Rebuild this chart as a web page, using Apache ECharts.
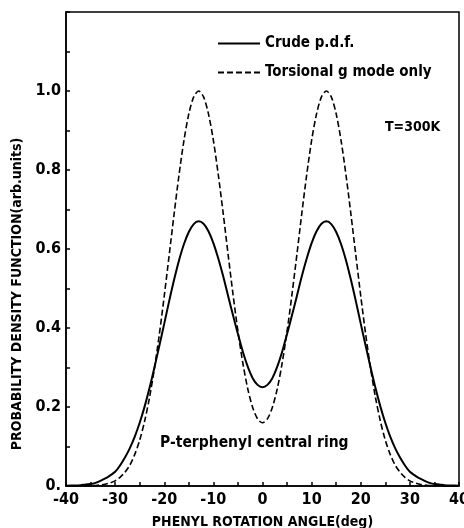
<!DOCTYPE html>
<html>
<head>
<meta charset="utf-8">
<style>
  html, body { margin: 0; padding: 0; background: #fff; }
  #chart { width: 464px; height: 528px; }
</style>
</head>
<body>
<div id="chart"></div>

<script src="https://cdn.jsdelivr.net/npm/echarts@6/dist/echarts.min.js"></script>
<script>
    // rotation angle (deg), -40 .. 40 in steps of 1
    var angles = [];
    for (var a = -40; a <= 40; a++) angles.push(a);

    // Torsional g mode only (dashed)
    var torsional = [
        0, 0, 0, 0, 0.0002, 0.0007, 0.0014, 0.0025, 0.0045, 0.008,
        0.013, 0.022, 0.035, 0.053, 0.080, 0.116, 0.164, 0.224, 0.298, 0.384,
        0.481, 0.584, 0.688, 0.787, 0.874, 0.942, 0.985, 1.000, 0.985, 0.942,
        0.875, 0.788, 0.690, 0.586, 0.485, 0.392, 0.311, 0.246, 0.199, 0.170,
        0.160,
        0.170, 0.199, 0.246, 0.311, 0.392, 0.485, 0.586, 0.690, 0.788, 0.875,
        0.942, 0.985, 1.000, 0.985, 0.942, 0.874, 0.787, 0.688, 0.584, 0.481,
        0.384, 0.298, 0.224, 0.164, 0.116, 0.080, 0.053, 0.035, 0.022, 0.013,
        0.008, 0.0045, 0.0025, 0.0014, 0.0007, 0.0002, 0, 0, 0, 0
    ];

    // Crude p.d.f. (solid)
    var crude = [
        0.0005, 0.001, 0.001, 0.002, 0.004, 0.005, 0.008, 0.013, 0.019, 0.027,
        0.036, 0.052, 0.072, 0.096, 0.125, 0.160, 0.201, 0.248, 0.300, 0.355,
        0.411, 0.468, 0.522, 0.571, 0.612, 0.643, 0.663, 0.670, 0.664, 0.645,
        0.615, 0.576, 0.531, 0.481, 0.432, 0.385, 0.340, 0.302, 0.273, 0.256,
        0.250,
        0.256, 0.273, 0.302, 0.340, 0.385, 0.432, 0.481, 0.531, 0.576, 0.615,
        0.645, 0.664, 0.670, 0.663, 0.643, 0.612, 0.571, 0.522, 0.468, 0.411,
        0.355, 0.300, 0.248, 0.201, 0.160, 0.125, 0.096, 0.072, 0.052, 0.036,
        0.027, 0.019, 0.013, 0.008, 0.005, 0.004, 0.002, 0.001, 0.001, 0.0005
    ];

    var seriesNames = ['Crude p.d.f.', 'Torsional g mode only'];

    var font = 'DejaVu Sans Condensed';

    function pairs(vals) {
        return angles.map(function (x, i) { return [x, vals[i]]; });
    }

    var myChart = echarts.init(document.getElementById('chart'));

    var option = {
        backgroundColor: '#fff',
        animation: false,
        color: ['#000', '#000'],
        textStyle: { fontFamily: font, color: '#000' },
        grid: {
            left: 66, right: 5, top: 12, bottom: 42,
            outerBoundsMode: 'none',
            containLabel: false,
            show: true, borderColor: '#000', borderWidth: 1.5
        },
        legend: {
            orient: 'vertical',
            left: 212, top: 31,
            itemWidth: 42, itemHeight: 14, itemGap: 14,
            data: seriesNames,
            itemStyle: { opacity: 0 },
            textStyle: { fontFamily: font, fontWeight: 'bold', fontSize: 15, color: '#000' }
        },
        xAxis: {
            type: 'value',
            min: -40, max: 40, interval: 10,
            name: 'PHENYL ROTATION ANGLE(deg)',
            nameLocation: 'middle', nameGap: 29,
            nameTextStyle: { fontFamily: font, fontWeight: 'bold', fontSize: 14, color: '#000' },
            axisLine: { onZero: false, lineStyle: { color: '#000', width: 1.5 } },
            axisTick: { inside: true, length: 4, lineStyle: { color: '#000', width: 1.5 } },
            minorTick: { show: true, splitNumber: 2, length: 4, lineStyle: { color: '#000', width: 1.5 } },
            splitLine: { show: false },
            axisLabel: { margin: 6, fontFamily: font, fontWeight: 'bold', fontSize: 16, color: '#000' }
        },
        yAxis: {
            type: 'value',
            min: 0, max: 1.2, interval: 0.2,
            name: 'PROBABILITY DENSITY FUNCTION(arb.units)',
            nameLocation: 'middle', nameGap: 41, nameRotate: 90,
            nameTextStyle: {
                fontFamily: font, fontWeight: 'bold', fontSize: 14, color: '#000',
                padding: [0, 90, 0, 0]
            },
            axisLine: { onZero: false, lineStyle: { color: '#000', width: 1.5 } },
            axisTick: { inside: true, length: 4, lineStyle: { color: '#000', width: 1.5 } },
            minorTick: { show: true, splitNumber: 2, length: 4, lineStyle: { color: '#000', width: 1.5 } },
            splitLine: { show: false },
            axisLabel: {
                margin: 5, fontFamily: font, fontWeight: 'bold', fontSize: 16, color: '#000',
                formatter: function (v) {
                    if (v === 0) return '0.';
                    if (v > 1.05) return '';
                    return v.toFixed(1);
                }
            }
        },
        graphic: [
            {
                type: 'text', left: 385, top: 120,
                style: { text: 'T=300K', fontFamily: font, fontWeight: 'bold', fontSize: 14, fill: '#000' }
            },
            {
                type: 'text', left: 160, top: 435,
                style: { text: 'P-terphenyl central ring', fontFamily: font, fontWeight: 'bold', fontSize: 15.5, fill: '#000' }
            }
        ],
        series: [
            {
                name: seriesNames[0],
                type: 'line',
                data: pairs(crude),
                symbol: 'none',
                smooth: 0.3,
                itemStyle: { color: '#000' },
                lineStyle: { color: '#000', width: 2 }
            },
            {
                name: seriesNames[1],
                type: 'line',
                data: pairs(torsional),
                symbol: 'none',
                smooth: 0.3,
                itemStyle: { color: '#000' },
                lineStyle: { color: '#000', width: 1.6, type: [6, 3] }
            }
        ]
    };

    myChart.setOption(option);
</script>
</body>
</html>
